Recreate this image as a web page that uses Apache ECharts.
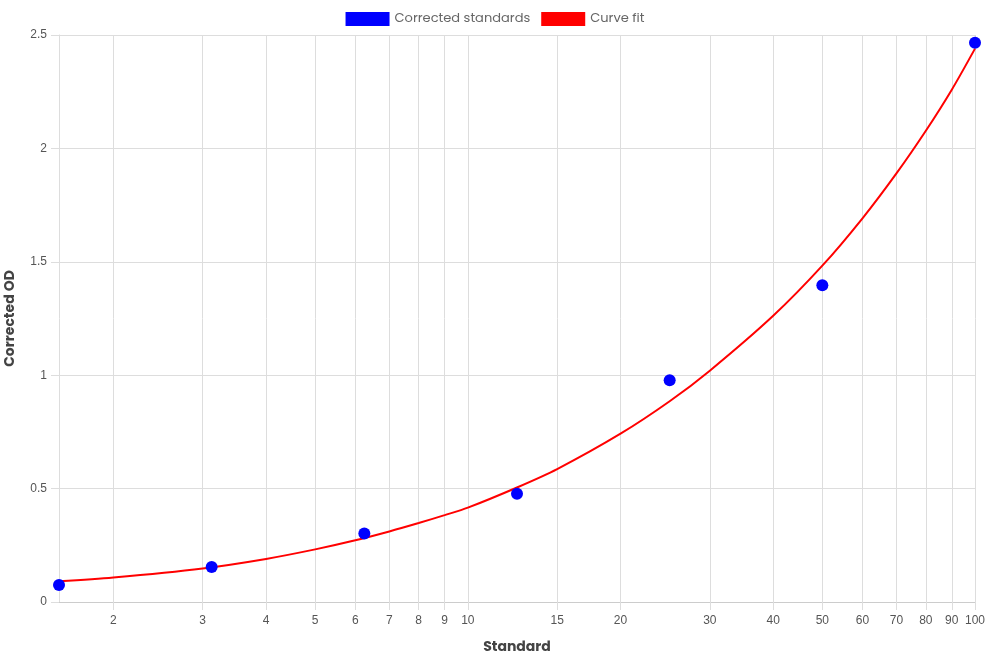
<!DOCTYPE html>
<html>
<head>
<meta charset="utf-8">
<title>Standard curve</title>
<script src="https://cdn.jsdelivr.net/npm/echarts@6/dist/echarts.min.js"></script>
<style>
    html, body { margin: 0; padding: 0; background: #fff; }
    #chart { width: 990px; height: 660px; }
</style>
</head>
<body>
<div id="chart"></div>
<script>
// measured standards
const standardConc = [1.5625, 3.125, 6.25, 12.5, 25, 50, 100];
const correctedOD = [0.075, 0.154, 0.302, 0.477, 0.978, 1.397, 2.466];

// fitted curve
const fitConc = [1.5625, 2, 3, 4, 5, 6, 7, 8, 9, 10, 12.5, 15, 20, 25, 30, 40, 50, 60, 70, 80, 90, 100];
const fitOD = [0.091, 0.108, 0.148, 0.190, 0.232, 0.272, 0.311, 0.348, 0.383, 0.416, 0.505, 0.586,
    0.742, 0.885, 1.020, 1.262, 1.483, 1.692, 1.890, 2.078, 2.259, 2.440];

// x axis tick labels
const xTicks = [2, 3, 4, 5, 6, 7, 8, 9, 10, 15, 20, 30, 40, 50, 60, 70, 80, 90, 100];

const chart = echarts.init(document.getElementById('chart'));

const gridColor = '#dddddd';
const labelFont = '"Liberation Sans", Arial, sans-serif';
const titleFont = 'Poppins, Inter, "Open Sans", sans-serif';

chart.setOption({
    animation: false,
    legend: {
        top: 7,
        left: 'center',
        icon: 'rect',
        itemWidth: 44,
        itemHeight: 14,
        itemGap: 11,
        textStyle: { fontFamily: titleFont, fontSize: 13, color: '#666' },
        data: ['Corrected standards', 'Curve fit']
    },
    grid: { left: 59, right: 15, top: 35, bottom: 58, containLabel: false, outerBoundsMode: 'none' },
    xAxis: {
        type: 'log',
        logBase: 10,
        min: 1.5625,
        max: 100,
        name: 'Standard',
        nameLocation: 'middle',
        nameGap: 38,
        nameTextStyle: { fontFamily: titleFont, fontSize: 14, fontWeight: 'bold', color: '#444' },
        axisLine: { show: true, lineStyle: { color: '#cccccc' } },
        axisTick: { show: true, length: 8, lineStyle: { color: gridColor }, customValues: xTicks },
        axisLabel: {
            customValues: xTicks,
            margin: 13,
            fontFamily: labelFont,
            fontSize: 12,
            color: '#555'
        },
        splitLine: { show: true, lineStyle: { color: gridColor } }
    },
    yAxis: {
        type: 'value',
        min: 0,
        max: 2.5,
        interval: 0.5,
        name: 'Corrected OD',
        nameLocation: 'middle',
        nameGap: 42,
        nameTextStyle: { fontFamily: titleFont, fontSize: 14, fontWeight: 'bold', color: '#444' },
        axisLine: { show: true, lineStyle: { color: gridColor } },
        axisTick: { show: true, length: 8, lineStyle: { color: gridColor } },
        axisLabel: { margin: 12, fontFamily: labelFont, fontSize: 12, color: '#555' },
        splitLine: { show: true, lineStyle: { color: gridColor } }
    },
    series: [
        {
            name: 'Curve fit',
            type: 'line',
            data: fitConc.map((x, i) => [x, fitOD[i]]),
            smooth: 0.3,
            showSymbol: false,
            symbol: 'none',
            lineStyle: { color: '#ff0000', width: 2 },
            itemStyle: { color: '#ff0000' },
            z: 2
        },
        {
            name: 'Corrected standards',
            type: 'scatter',
            data: standardConc.map((x, i) => [x, correctedOD[i]]),
            symbolSize: 12,
            itemStyle: { color: '#0000ff', opacity: 1 },
            z: 3
        }
    ]
});
</script>
</body>
</html>
